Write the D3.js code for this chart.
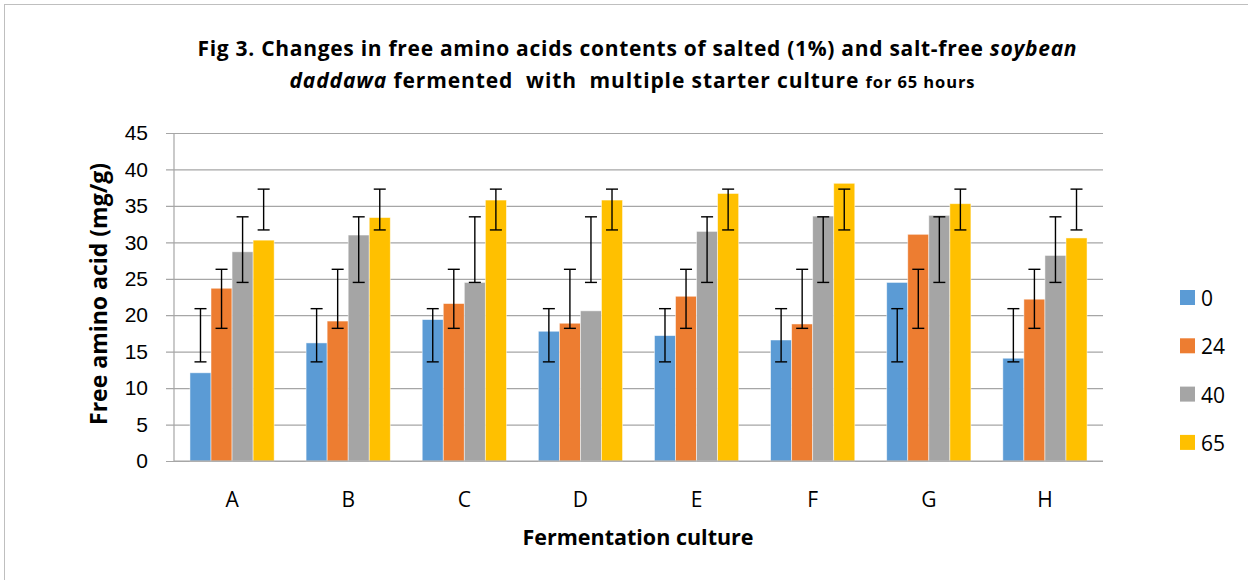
<!DOCTYPE html>
<html>
<head>
<meta charset="utf-8">
<script src="https://cdn.jsdelivr.net/npm/d3@7"></script>
<style>
  body { margin: 0; background: #fff; }
  svg { display: block; font-family: "Open Sans", "Noto Sans", sans-serif; }
  .title { white-space: pre; }
</style>
</head>
<body>
<svg id="chart" width="1248" height="580"></svg>
<script>
// culture labels along x
var categories = ['A', 'B', 'C', 'D', 'E', 'F', 'G', 'H'];
// fermentation time (hours), one series each
var seriesNames = ['0', '24', '40', '65'];
var colors = ['#5B9BD5', '#ED7D31', '#A5A5A5', '#FFC000'];

var hours0  = [12.1, 16.2, 19.4, 17.8, 17.2, 16.6, 24.5, 14.1];
var hours24 = [23.7, 19.2, 21.6, 18.9, 22.6, 18.8, 31.1, 22.2];
var hours40 = [28.7, 31.0, 24.5, 20.6, 31.5, 33.6, 33.7, 28.2];
var hours65 = [30.3, 33.4, 35.8, 35.8, 36.7, 38.1, 35.3, 30.6];

// error bars (same span for every culture)
var errLow  = [13.6, 18.2, 24.5, 31.7];
var errHigh = [20.9, 26.3, 33.5, 37.3];

var yTicks = [0, 5, 10, 15, 20, 25, 30, 35, 40, 45];

var values = [hours0, hours24, hours40, hours65];

var margin = {top: 133, left: 174, right: 1103, bottom: 461};

var svg = d3.select('#chart');

// outer frame
svg.append('rect')
	.attr('x', 4.5).attr('y', 4.5)
	.attr('width', 1260).attr('height', 600)
	.attr('fill', 'none')
	.attr('stroke', '#BFBFBF');

var x0 = d3.scaleBand()
	.domain(categories)
	.range([margin.left, margin.right])
	.paddingInner(0.275)
	.paddingOuter(0.1375);

var x1 = d3.scaleBand()
	.domain(seriesNames)
	.range([0, x0.bandwidth()]);

var y = d3.scaleLinear()
	.domain([0, 45])
	.range([margin.bottom, margin.top]);

// gridlines + left ticks
var yAxis = d3.axisLeft(y)
	.tickValues(yTicks)
	.tickSize(-(margin.right - margin.left))
	.tickSizeOuter(0)
	.tickPadding(26)
	.tickFormat(d3.format('d'));

var gy = svg.append('g')
	.attr('transform', 'translate(' + margin.left + ',0)')
	.call(yAxis);

gy.select('.domain').remove();
gy.selectAll('.tick line')
	.attr('x1', -8)
	.attr('stroke', '#A6A6A6')
	.attr('stroke-width', 1.2);
gy.selectAll('.tick text')
	.attr('font-size', 21)
	.attr('fill', '#000');

// vertical axis line
svg.append('line')
	.attr('x1', margin.left).attr('x2', margin.left)
	.attr('y1', margin.top).attr('y2', margin.bottom)
	.attr('stroke', '#A6A6A6')
	.attr('stroke-width', 1.2);

// bars
var group = svg.selectAll('g.cat')
	.data(categories)
	.enter()
	.append('g')
	.attr('class', 'cat')
	.attr('transform', function(d){ return 'translate(' + x0(d) + ',0)'; });

group.selectAll('rect')
	.data(function(d, i){
		return seriesNames.map(function(s, j){ return {s: s, j: j, v: values[j][i]}; });
	})
	.enter()
	.append('rect')
	.attr('x', function(d){ return x1(d.s); })
	.attr('width', x1.bandwidth())
	.attr('y', function(d){ return y(d.v); })
	.attr('height', function(d){ return y(0) - y(d.v); })
	.attr('fill', function(d){ return colors[d.j]; })
	.attr('stroke', '#fff')
	.attr('stroke-opacity', 0.6)
	.attr('stroke-width', 0.8);

// x axis line
svg.append('line')
	.attr('x1', margin.left).attr('x2', margin.right)
	.attr('y1', margin.bottom).attr('y2', margin.bottom)
	.attr('stroke', '#A6A6A6')
	.attr('stroke-width', 1.2);

// error bars
var err = group.selectAll('g.err')
	.data(function(){ return seriesNames.map(function(s, j){ return {s: s, j: j}; }); })
	.enter()
	.append('g')
	.attr('class', 'err')
	.attr('stroke', '#000')
	.attr('stroke-width', 1.4);

err.append('line')
	.attr('x1', function(d){ return x1(d.s) + x1.bandwidth() / 2; })
	.attr('x2', function(d){ return x1(d.s) + x1.bandwidth() / 2; })
	.attr('y1', function(d){ return y(errLow[d.j]); })
	.attr('y2', function(d){ return y(errHigh[d.j]); });

[errLow, errHigh].forEach(function(arr){
	err.append('line')
		.attr('x1', function(d){ return x1(d.s) + x1.bandwidth() / 2 - 6; })
		.attr('x2', function(d){ return x1(d.s) + x1.bandwidth() / 2 + 6; })
		.attr('y1', function(d){ return y(arr[d.j]); })
		.attr('y2', function(d){ return y(arr[d.j]); });
});

// category labels
svg.selectAll('text.cat')
	.data(categories)
	.enter()
	.append('text')
	.attr('class', 'cat')
	.attr('x', function(d){ return x0(d) + x0.bandwidth() / 2; })
	.attr('y', 507)
	.attr('text-anchor', 'middle')
	.attr('font-size', 21)
	.text(function(d){ return d; });

// axis titles
svg.append('text')
	.attr('x', 638).attr('y', 545)
	.attr('text-anchor', 'middle')
	.attr('font-size', 21.5)
	.attr('font-weight', 'bold')
	.text('Fermentation culture');

svg.append('text')
	.attr('transform', 'translate(107,294) rotate(-90)')
	.attr('text-anchor', 'middle')
	.attr('font-size', 23)
	.attr('font-weight', 'bold')
	.text('Free amino acid (mg/g)');

// title
var t1 = svg.append('text')
	.attr('class', 'title')
	.attr('x', 637).attr('y', 56)
	.attr('text-anchor', 'middle')
	.attr('font-size', 21)
	.attr('font-weight', 'bold')
	.attr('textLength', 879)
	.attr('lengthAdjust', 'spacing');
t1.append('tspan').text('Fig 3. Changes in free amino acids contents of salted (1%) and salt-free ');
t1.append('tspan').attr('font-style', 'italic').text('soybean');

var t2 = svg.append('text')
	.attr('class', 'title')
	.attr('x', 632).attr('y', 88)
	.attr('text-anchor', 'middle')
	.attr('font-size', 21)
	.attr('font-weight', 'bold')
	.attr('textLength', 685)
	.attr('lengthAdjust', 'spacing');
t2.append('tspan').attr('font-style', 'italic').text('daddawa');
t2.append('tspan').text(' fermented  with  multiple starter culture ');
t2.append('tspan').attr('font-size', 16.5).text('for 65 hours');

// legend
var legend = svg.selectAll('g.legend')
	.data(seriesNames)
	.enter()
	.append('g')
	.attr('class', 'legend')
	.attr('transform', function(d, i){ return 'translate(1180,' + (290 + i * 48.3) + ')'; });

legend.append('rect')
	.attr('width', 15).attr('height', 15)
	.attr('fill', function(d, i){ return colors[i]; });

legend.append('text')
	.attr('x', 21).attr('y', 16)
	.attr('font-size', 21)
	.text(function(d){ return d; });
</script>
</body>
</html>
